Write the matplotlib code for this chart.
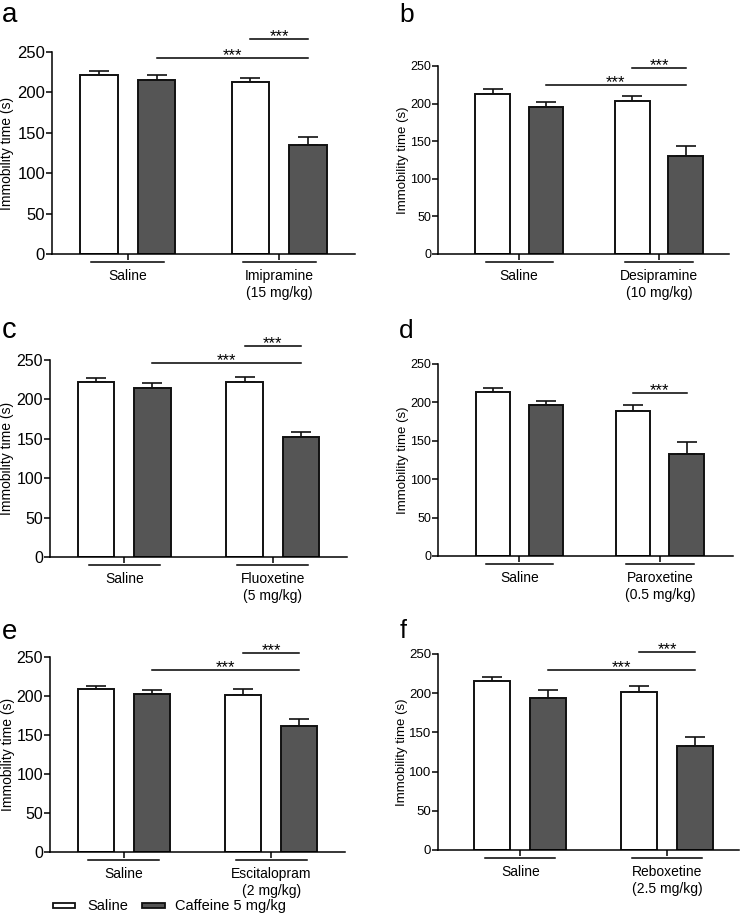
import numpy as np
import matplotlib.pyplot as plt
from matplotlib.patches import Rectangle
from matplotlib.transforms import blended_transform_factory

plt.rcParams['font.family'] = ['Liberation Sans', 'DejaVu Sans']

# panel data: (saline mean, caffeine mean) per group, with SEM
panels = ['a', 'b', 'c', 'd', 'e', 'f']
drugs = ['Imipramine\n(15 mg/kg)', 'Desipramine\n(10 mg/kg)', 'Fluoxetine\n(5 mg/kg)',
         'Paroxetine\n(0.5 mg/kg)', 'Escitalopram\n(2 mg/kg)', 'Reboxetine\n(2.5 mg/kg)']
saline_mean = [[222, 213], [213, 204], [222, 222], [213, 189], [209, 201], [216, 202]]
saline_err = [[5, 5], [6, 6], [5, 6], [6, 8], [4, 8], [5, 7]]
caffeine_mean = [[215, 135], [196, 130], [215, 152], [196, 133], [202, 162], [194, 133]]
caffeine_err = [[6, 10], [6, 14], [6, 7], [6, 16], [6, 8], [10, 11]]
# significance bars: (from bar, to bar, height) - bars indexed 0..3 left to right
sig_lines = [
    [(1, 3, 243), (2, 3, 266)],
    [(1, 3, 225), (2, 3, 248)],
    [(1, 3, 246), (2, 3, 268)],
    [(2, 3, 212)],
    [(1, 3, 233), (2, 3, 255)],
    [(1, 3, 230), (2, 3, 253)],
]
legend_labels = ['Saline', 'Caffeine 5 mg/kg']

# axes rectangles in pixels (left, right, top, bottom) of a 742x916 canvas
W, H = 742, 916
rects = [(52, 355, 52, 254), (438, 729, 66, 254),
         (50, 347, 360, 557), (438, 733, 364, 556),
         (50, 345, 657, 852), (438, 739, 654, 850)]
xlims = [(-0.5, 1.5), (-0.58, 1.5), (-0.5, 1.5), (-0.58, 1.52), (-0.5, 1.5), (-0.56, 1.49)]
tick_fs = [12, 9, 11.5, 9, 11.5, 9.5]
ylabel_x = [14, 409, 14, 409, 15, 408]  # right edge of rotated label, px
ylabel_fs = [10, 9.5, 10, 9.5, 10, 9.5]
letter_pos = [(2, 22), (399, 22), (2, 338), (399, 338), (2, 639), (400, 638)]
letter_fs = [20, 19, 21, 19, 20, 18]

dark = '#555555'
bw = 0.245
off = 0.19

fig = plt.figure(figsize=(W / 100, H / 100), dpi=100)

for i in range(6):
    l, r, t, b = rects[i]
    ax = fig.add_axes([l / W, 1 - b / H, (r - l) / W, (b - t) / H])
    groups = np.arange(2)
    xs_sal = groups - off
    xs_caf = groups + off
    ax.bar(xs_sal, saline_mean[i], bw, color='white', edgecolor='#111111', linewidth=1.4, zorder=2)
    ax.bar(xs_caf, caffeine_mean[i], bw, color=dark, edgecolor='#111111', linewidth=1.4, zorder=2)
    ax.errorbar(xs_sal, saline_mean[i], yerr=[np.zeros(2), saline_err[i]], fmt='none',
                ecolor='#111111', elinewidth=1.2, capsize=7, capthick=1.2, zorder=1)
    ax.errorbar(xs_caf, caffeine_mean[i], yerr=[np.zeros(2), caffeine_err[i]], fmt='none',
                ecolor='#111111', elinewidth=1.2, capsize=7, capthick=1.2, zorder=1)

    ax.set_xlim(*xlims[i])
    ax.set_ylim(0, 250)
    ax.set_yticks([0, 50, 100, 150, 200, 250])
    ax.tick_params(axis='y', labelsize=tick_fs[i], length=4, width=1.1, pad=1)
    ax.tick_params(axis='x', length=4, width=1.1, labelsize=10, pad=7)
    ax.set_xticks(groups)
    ax.set_xticklabels(['Saline', drugs[i]], linespacing=1.25, va='top')
    ax.set_ylabel('Immobility time (s)', fontsize=ylabel_fs[i])
    ax.yaxis.set_label_coords((ylabel_x[i] - l) / (r - l), 0.5)
    for s in ['top', 'right']:
        ax.spines[s].set_visible(False)
    for s in ['left', 'bottom']:
        ax.spines[s].set_linewidth(1.1)

    # group underlines
    trans = blended_transform_factory(ax.transData, ax.transAxes)
    for g in groups:
        ax.plot([g - 0.24, g + 0.24], [-0.04, -0.04], color='black', lw=1.1,
                transform=trans, clip_on=False)

    # significance lines
    bar_x = [xs_sal[0], xs_caf[0], xs_sal[1], xs_caf[1]]
    for a0, a1, yv in sig_lines[i]:
        ax.plot([bar_x[a0], bar_x[a1]], [yv, yv], color='black', lw=1.1, clip_on=False)
        ax.text((bar_x[a0] + bar_x[a1]) / 2, yv - 3, '***', ha='center', va='baseline',
                fontsize=12)

    fig.text(letter_pos[i][0] / W, 1 - letter_pos[i][1] / H, panels[i], fontsize=letter_fs[i],
             ha='left', va='baseline')

# legend drawn in figure pixels
for x0, x1, fc, tx, lab in [(53, 75, 'white', 87, legend_labels[0]),
                            (142, 165, dark, 175, legend_labels[1])]:
    fig.patches.append(Rectangle((x0 / W, 1 - 908 / H), (x1 - x0) / W, 5 / H,
                                 facecolor=fc, edgecolor='#111111', linewidth=1.3,
                                 transform=fig.transFigure))
    fig.text(tx / W, 1 - 906 / H, lab, fontsize=10.5, ha='left', va='center')

fig.savefig('out.png', dpi=100)
